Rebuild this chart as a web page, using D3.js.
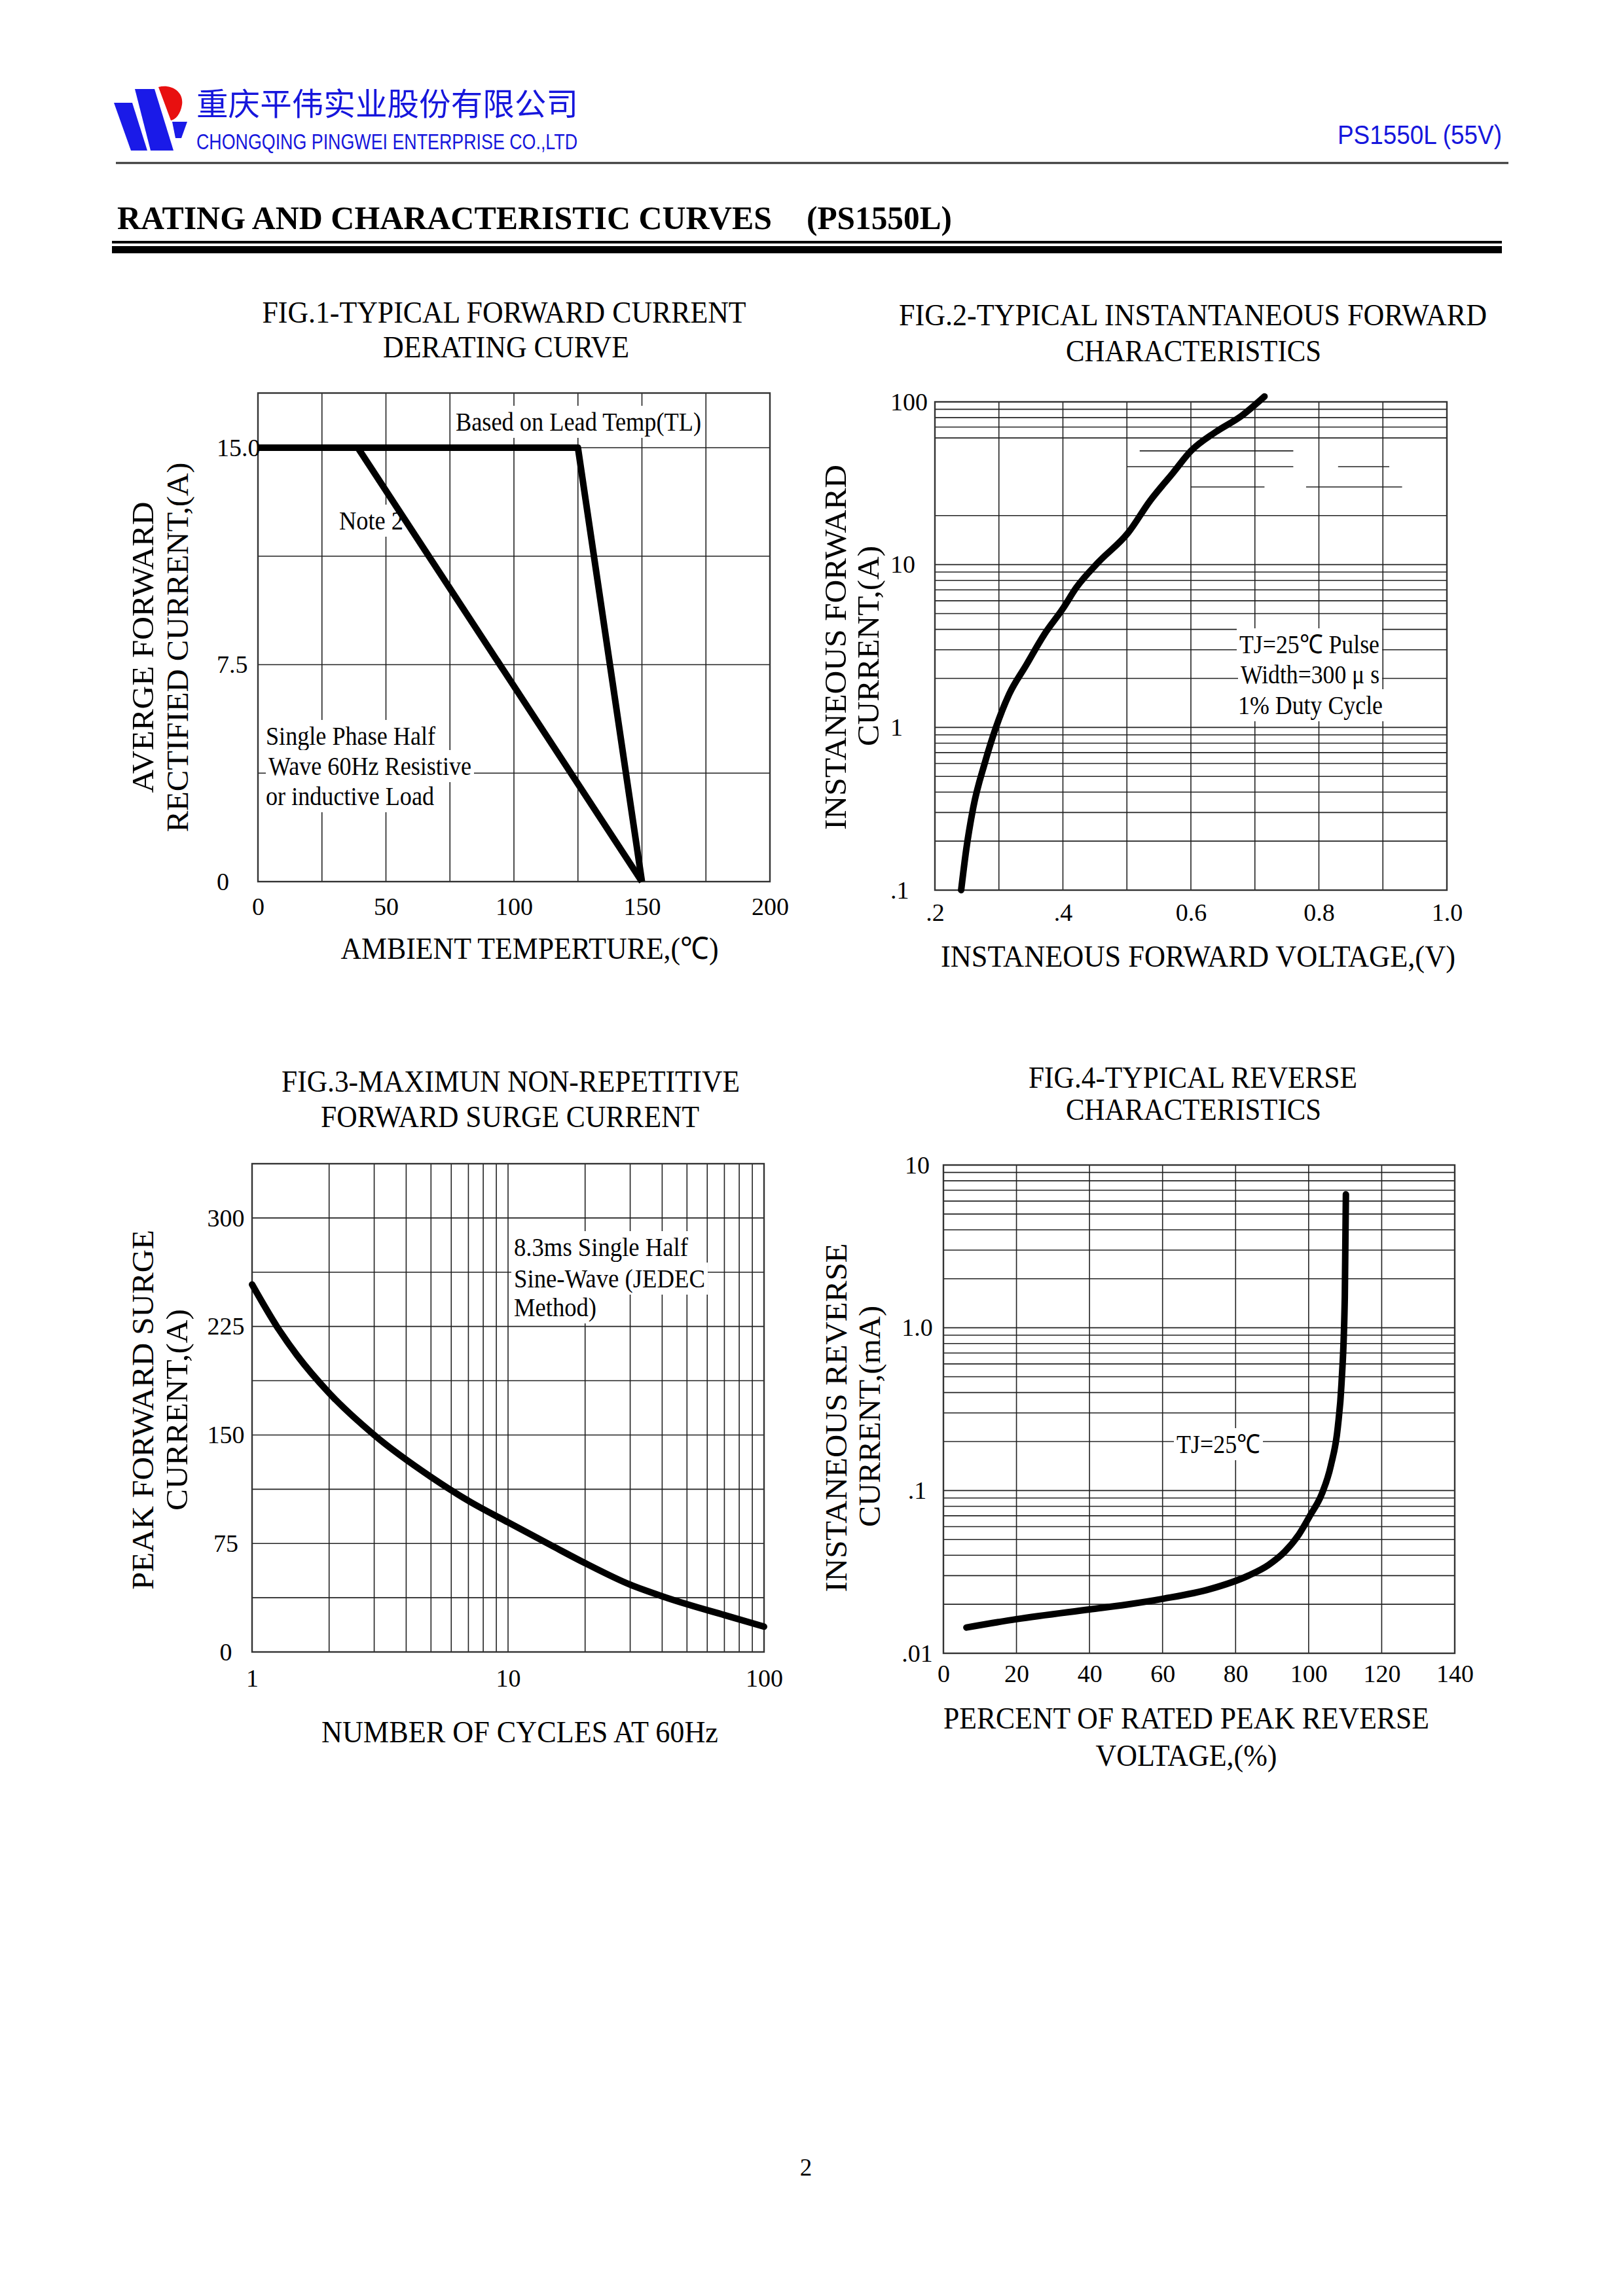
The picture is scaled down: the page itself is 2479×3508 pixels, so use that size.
<!DOCTYPE html>
<html>
<head>
<meta charset="utf-8">
<script src="https://cdn.jsdelivr.net/npm/d3@7"></script>
<style>
html, body { margin: 0; padding: 0; background: #fff; }
svg { display: block; }
</style>
</head>
<body>
<svg id="page" width="2479" height="3508"></svg>
<script>
// ---- data ----
var fig1XTicks = [0, 50, 100, 150, 200];
var fig1YTicks = [0, 7.5, 15];
var fig1YLabels = ["0", "7.5", "15.0"];
var fig1LeadTempC = [0, 125, 150];
var fig1LeadTempA = [15, 15, 0];
var fig1Note2C = [39, 150];
var fig1Note2A = [15, 0];

var fig2XTicks = [0.2, 0.4, 0.6, 0.8, 1.0];
var fig2XLabels = [".2", ".4", "0.6", "0.8", "1.0"];
var fig2YTicks = [0.1, 1, 10, 100];
var fig2YLabels = [".1", "1", "10", "100"];
var fig2Voltage = [0.241, 0.249, 0.260, 0.278, 0.295, 0.316, 0.342, 0.371, 0.400, 0.421, 0.455, 0.502, 0.536, 0.572, 0.600, 0.638, 0.679, 0.715];
var fig2Current = [0.1, 0.178, 0.323, 0.605, 0.99, 1.6, 2.39, 3.73, 5.37, 7.23, 10.3, 15.7, 24.6, 36.6, 49.9, 65, 82, 108];

var fig3XTicks = [1, 10, 100];
var fig3XLabels = ["1", "10", "100"];
var fig3YTicks = [0, 75, 150, 225, 300];
var fig3Cycles = [1, 1.25, 1.5, 2, 3, 5, 7, 10, 15, 20, 30, 40, 50, 70, 100];
var fig3Current = [254, 225, 205, 179, 150, 121, 104.5, 89.6, 73, 61.4, 46.5, 38.5, 33, 25.5, 17.5];

var fig4XTicks = [0, 20, 40, 60, 80, 100, 120, 140];
var fig4YTicks = [0.01, 0.1, 1, 10];
var fig4YLabels = [".01", ".1", "1.0", "10"];
var fig4Percent = [6.3, 20, 40, 50, 60, 73, 83.5, 89, 93.5, 97.3, 100.4, 103.6, 106.1, 108, 109, 109.9, 110.2];
var fig4Current = [0.0144, 0.0162, 0.0186, 0.0199, 0.0216, 0.0248, 0.0300, 0.0349, 0.0422, 0.0536, 0.0703, 0.0953, 0.143, 0.247, 0.455, 1.55, 6.6];

var SERIF = "'Liberation Serif','Times New Roman',Times,serif";
var SANS = "'Liberation Sans Narrow','Liberation Sans',Arial,sans-serif";
var CJK = "'Noto Sans CJK SC',sans-serif";
var BLUE = "#1616dc";

var svg = d3.select("#page");

// text helper: optional fixed width (the original type is a narrow Times), rotation, white box behind
function txt(g, str, x, y, o) {
    o = o || {};
    var t = g.append("text")
        .attr("x", x).attr("y", y)
        .attr("font-family", o.family || SERIF)
        .attr("font-size", o.size || 40)
        .attr("font-weight", o.weight || "normal")
        .attr("fill", o.fill || "#000")
        .attr("text-anchor", o.anchor || "start")
        .text(str);
    if (o.width) t.attr("textLength", o.width).attr("lengthAdjust", "spacingAndGlyphs");
    if (o.rotate) t.attr("transform", "rotate(-90," + x + "," + y + ")");
    if (o.bg) {
        var b = t.node().getBBox();
        g.insert("rect", function () { return t.node(); })
            .attr("x", b.x - 4).attr("y", b.y - 2)
            .attr("width", b.width + 8).attr("height", b.height + 4)
            .attr("fill", "#fff");
    }
    return t;
}

function grid(g, x, y, xs, ys) {
    var x0 = x.range()[0], x1 = x.range()[1], y0 = y.range()[0], y1 = y.range()[1];
    g.append("g").selectAll("line").data(xs).join("line")
        .attr("x1", d => x(d)).attr("x2", d => x(d))
        .attr("y1", y0).attr("y2", y1)
        .attr("stroke", "#222").attr("stroke-width", 1.6);
    g.append("g").selectAll("line").data(ys).join("line")
        .attr("x1", x0).attr("x2", x1)
        .attr("y1", d => y(d)).attr("y2", d => y(d))
        .attr("stroke", "#222").attr("stroke-width", 1.6);
}

function frame(g, x, y) {
    var x0 = x.range()[0], x1 = x.range()[1], y0 = y.range()[0], y1 = y.range()[1];
    g.append("rect").attr("x", x0).attr("y", y1)
        .attr("width", x1 - x0).attr("height", y0 - y1)
        .attr("fill", "none").attr("stroke", "#333").attr("stroke-width", 2.4);
}

function curve(g, x, y, xs, ys, kind, cap) {
    var pts = xs.map((v, i) => [v, ys[i]]);
    g.append("path").datum(pts)
        .attr("d", d3.line().x(d => x(d[0])).y(d => y(d[1])).curve(kind))
        .attr("fill", "none").attr("stroke", "#000").attr("stroke-width", 10)
        .attr("stroke-linejoin", "round").attr("stroke-linecap", cap || "round");
}

function xLabels(g, x, y, ticks, labels, pad) {
    var ax = d3.axisBottom(x).tickValues(ticks)
        .tickFormat((d, i) => labels[i]).tickSize(0).tickPadding(pad);
    var a = g.append("g").attr("transform", "translate(0," + y.range()[0] + ")").call(ax);
    a.select(".domain").remove();
    a.selectAll("text").attr("font-family", SERIF).attr("font-size", 38).attr("fill", "#000");
    return a;
}

function yLabels(g, x, y, ticks, labels, dx, anchor) {
    var ax = d3.axisLeft(y).tickValues(ticks)
        .tickFormat((d, i) => labels[i]).tickSize(0);
    var a = g.append("g").attr("transform", "translate(" + x.range()[0] + ",0)").call(ax);
    a.select(".domain").remove();
    a.selectAll("text").attr("font-family", SERIF).attr("font-size", 38).attr("fill", "#000")
        .attr("x", dx).attr("text-anchor", anchor);
    return a;
}

function logRows(lo, hi) {
    var out = [];
    for (var d = lo; d < hi * 0.999; d *= 10) {
        for (var k = 1; k <= 9; k++) out.push(+(k * d).toPrecision(3));
    }
    out.push(hi);
    return out;
}

// ---- header ----
var head = svg.append("g");
head.append("path").attr("d", "M174,157 L202,157 L225,230 L200,230 Z").attr("fill", "#1a1ae8");
head.append("path").attr("d", "M206,136 L236,136 L265,230 L230,230 Z").attr("fill", "#1a1ae8");
head.append("path").attr("d", "M242,133 C262,128 281,140 278,160 C276,174 268,183 261,184 Z").attr("fill", "#e81010");
head.append("path").attr("d", "M263,186 L286,186 L277,211 L268,211 Z").attr("fill", "#1a1ae8");
txt(head, "重庆平伟实业股份有限公司", 300, 176, { family: CJK, size: 48, fill: BLUE, width: 583 });
txt(head, "CHONGQING PINGWEI ENTERPRISE CO.,LTD", 300, 228, { family: SANS, size: 34, fill: BLUE, width: 582 });
txt(head, "PS1550L (55V)", 2043, 220, { family: SANS, size: 40, fill: BLUE, width: 251 });
head.append("line").attr("x1", 177).attr("x2", 2304).attr("y1", 249).attr("y2", 249)
    .attr("stroke", "#333").attr("stroke-width", 3);

txt(head, "RATING AND CHARACTERISTIC CURVES", 179, 350, { size: 50, weight: "bold", width: 1000 });
txt(head, "(PS1550L)", 1232, 350, { size: 50, weight: "bold", width: 222 });
head.append("rect").attr("x", 171).attr("y", 368).attr("width", 2123).attr("height", 4).attr("fill", "#000");
head.append("rect").attr("x", 171).attr("y", 376).attr("width", 2123).attr("height", 11).attr("fill", "#000");

// ---- FIG.1 ----
var g1 = svg.append("g");
var x1 = d3.scaleLinear().domain([0, 200]).range([394, 1176]);
var y1 = d3.scaleLinear().domain([0, 16.89]).range([1347, 600.5]);
grid(g1, x1, y1, d3.range(25, 200, 25), d3.range(3.75, 15.01, 3.75));
frame(g1, x1, y1);
xLabels(g1, x1, y1, fig1XTicks, fig1XTicks.map(String), 24);
yLabels(g1, x1, y1, fig1YTicks, fig1YLabels, -63, "start");
txt(g1, "FIG.1-TYPICAL FORWARD CURRENT", 770, 493, { size: 46, anchor: "middle", width: 739 });
txt(g1, "DERATING CURVE", 773, 546, { size: 46, anchor: "middle", width: 376 });
txt(g1, "AMBIENT TEMPERTURE,(℃)", 809, 1465, { size: 47, anchor: "middle", width: 577 });
txt(g1, "AVERGE FORWARD", 234, 989, { size: 47, anchor: "middle", width: 445, rotate: true });
txt(g1, "RECTIFIED CURRENT,(A)", 287, 989, { size: 47, anchor: "middle", width: 565, rotate: true });
txt(g1, "Based on Lead Temp(TL)", 696, 658, { size: 40, width: 375, bg: true });
txt(g1, "Note 2", 518, 809, { size: 40, width: 98, bg: true });
txt(g1, "Single Phase Half", 406, 1138, { size: 40, width: 259, bg: true });
txt(g1, "Wave 60Hz Resistive", 410, 1184, { size: 40, width: 310, bg: true });
txt(g1, "or inductive Load", 406, 1230, { size: 40, width: 257, bg: true });
curve(g1, x1, y1, fig1LeadTempC, fig1LeadTempA, d3.curveLinear, "butt");
curve(g1, x1, y1, fig1Note2C, fig1Note2A, d3.curveLinear, "butt");

// ---- FIG.2 ----
var g2 = svg.append("g");
var x2 = d3.scaleLinear().domain([0.2, 1.0]).range([1428, 2210]);
var y2 = d3.scaleLog().domain([0.1, 100]).range([1360, 614]);
var fig2Rows = logRows(0.1, 100).filter(v => [30, 40, 50].indexOf(v) < 0);
grid(g2, x2, y2, d3.range(0.3, 0.95, 0.1), fig2Rows);
// rows that the original only draws in pieces
[[50, 0.52, 0.76], [40, 0.5, 0.76], [40, 0.83, 0.91], [30, 0.6, 0.715], [30, 0.78, 0.93]].forEach(function (s) {
    g2.append("line").attr("x1", x2(s[1])).attr("x2", x2(s[2]))
        .attr("y1", y2(s[0])).attr("y2", y2(s[0]))
        .attr("stroke", "#222").attr("stroke-width", 1.6);
});
frame(g2, x2, y2);
xLabels(g2, x2, y2, fig2XTicks, fig2XLabels, 20);
yLabels(g2, x2, y2, fig2YTicks, fig2YLabels, -68, "start");
txt(g2, "FIG.2-TYPICAL INSTANTANEOUS FORWARD", 1822, 497, { size: 46, anchor: "middle", width: 898 });
txt(g2, "CHARACTERISTICS", 1823, 552, { size: 46, anchor: "middle", width: 390 });
txt(g2, "INSTANEOUS FORWARD VOLTAGE,(V)", 1830, 1477, { size: 47, anchor: "middle", width: 786 });
txt(g2, "INSTANEOUS FORWARD", 1292, 989, { size: 47, anchor: "middle", width: 558, rotate: true });
txt(g2, "CURRENT,(A)", 1342, 987, { size: 47, anchor: "middle", width: 306, rotate: true });
txt(g2, "TJ=25℃ Pulse", 1893, 998, { size: 40, width: 214, bg: true });
txt(g2, "Width=300 μ s", 1895, 1044, { size: 40, width: 212, bg: true });
txt(g2, "1% Duty Cycle", 1891, 1091, { size: 40, width: 221, bg: true });
curve(g2, x2, y2, fig2Voltage, fig2Current, d3.curveMonotoneX);

// ---- FIG.3 ----
var g3 = svg.append("g");
var x3 = d3.scaleLog().domain([1, 100]).range([385, 1167]);
var y3 = d3.scaleLinear().domain([0, 337.5]).range([2524, 1778]);
grid(g3, x3, y3, logRows(1, 100).filter(v => v > 1 && v < 100), d3.range(37.5, 300.1, 37.5));
frame(g3, x3, y3);
xLabels(g3, x3, y3, fig3XTicks, fig3XLabels, 26);
yLabels(g3, x3, y3, fig3YTicks, fig3YTicks.map(String), -40, "middle");
txt(g3, "FIG.3-MAXIMUN NON-REPETITIVE", 780, 1668, { size: 46, anchor: "middle", width: 700 });
txt(g3, "FORWARD SURGE CURRENT", 779, 1722, { size: 46, anchor: "middle", width: 578 });
txt(g3, "NUMBER OF CYCLES AT 60Hz", 794, 2662, { size: 47, anchor: "middle", width: 606 });
txt(g3, "PEAK FORWARD SURGE", 234, 2154, { size: 47, anchor: "middle", width: 550, rotate: true });
txt(g3, "CURRENT,(A)", 286, 2154, { size: 47, anchor: "middle", width: 308, rotate: true });
txt(g3, "8.3ms Single Half", 785, 1919, { size: 40, width: 266, bg: true });
txt(g3, "Sine-Wave (JEDEC", 785, 1967, { size: 40, width: 292, bg: true });
txt(g3, "Method)", 785, 2011, { size: 40, width: 126, bg: true });
curve(g3, x3, y3, fig3Cycles, fig3Current, d3.curveMonotoneX);

// ---- FIG.4 ----
var g4 = svg.append("g");
var x4 = d3.scaleLinear().domain([0, 140]).range([1441, 2222]);
var y4 = d3.scaleLog().domain([0.01, 10]).range([2526, 1780]);
grid(g4, x4, y4, d3.range(20, 140, 20), logRows(0.01, 10).filter(v => v > 0.01 && v < 10));
frame(g4, x4, y4);
xLabels(g4, x4, y4, fig4XTicks, fig4XTicks.map(String), 17);
yLabels(g4, x4, y4, fig4YTicks, fig4YLabels, -40, "middle");
txt(g4, "FIG.4-TYPICAL REVERSE", 1822, 1662, { size: 46, anchor: "middle", width: 502 });
txt(g4, "CHARACTERISTICS", 1823, 1711, { size: 46, anchor: "middle", width: 390 });
txt(g4, "PERCENT OF RATED PEAK REVERSE", 1812, 2641, { size: 47, anchor: "middle", width: 742 });
txt(g4, "VOLTAGE,(%)", 1812, 2698, { size: 47, anchor: "middle", width: 277 });
txt(g4, "INSTANEOUS REVERSE", 1293, 2166, { size: 47, anchor: "middle", width: 533, rotate: true });
txt(g4, "CURRENT,(mA)", 1344, 2164, { size: 47, anchor: "middle", width: 338, rotate: true });
txt(g4, "TJ=25℃", 1797, 2220, { size: 40, width: 128, bg: true });
curve(g4, x4, y4, fig4Percent, fig4Current, d3.curveMonotoneX);

// page number
txt(svg, "2", 1231, 3324, { size: 37, anchor: "middle" });
</script>
</body>
</html>
